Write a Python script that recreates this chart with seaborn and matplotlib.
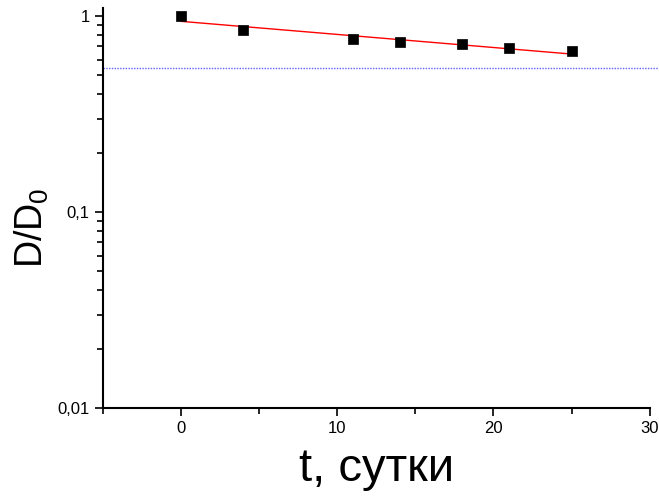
import matplotlib
matplotlib.use("Agg")
import matplotlib.pyplot as plt
import matplotlib.ticker as mticker
import seaborn as sns
import pandas as pd

t_days = [0, 4, 11, 14, 18, 21, 25]
d_ratio = [1.00, 0.85, 0.76, 0.74, 0.72, 0.69, 0.66]
fit_t = [0, 25]
fit_y = [0.94, 0.64]
threshold = 0.543
x_ticks = [0, 10, 20, 30]
y_ticks = [0.01, 0.1, 1]
y_tick_labels = ["0,01", "0,1", "1"]

sns.set_style("ticks")
plt.rcParams["font.family"] = ["Liberation Sans", "DejaVu Sans"]
plt.rcParams["text.color"] = "black"
plt.rcParams["axes.labelcolor"] = "black"
plt.rcParams["mathtext.fontset"] = "custom"
plt.rcParams["mathtext.rm"] = "Liberation Sans"
plt.rcParams["mathtext.it"] = "Liberation Sans"

fig = plt.figure(figsize=(6.59, 4.97), dpi=100)
ax = fig.add_axes([0.156, 0.179, 0.830, 0.805])

df = pd.DataFrame({"t": t_days, "d": d_ratio})
fit = pd.DataFrame({"t": fit_t, "d": fit_y})

sns.lineplot(data=fit, x="t", y="d", color="red", linewidth=1.0, ax=ax)
sns.scatterplot(data=df, x="t", y="d", marker="s", s=50, color="black",
                edgecolor="black", linewidth=0.5, ax=ax, zorder=3)
ax.axhline(threshold, xmin=0, xmax=1.015, color="#6060ff", linestyle=(0, (1, 1)),
           linewidth=1.0, clip_on=False)

ax.set_yscale("log")
ax.set_xlim(-5, 30)
ax.set_ylim(0.01, 1.1)
ax.set_xticks(x_ticks)
ax.set_xticklabels([str(v) for v in x_ticks])
ax.xaxis.set_minor_locator(mticker.FixedLocator([-5, 5, 15, 25]))
ax.set_yticks(y_ticks)
ax.set_yticklabels(y_tick_labels)
ax.yaxis.set_minor_locator(mticker.LogLocator(base=10, subs=range(2, 10)))
ax.yaxis.set_minor_formatter(mticker.NullFormatter())

ax.tick_params(axis="both", which="major", direction="out", length=6, width=1.2,
               labelsize=12, color="black", labelcolor="black")
ax.tick_params(axis="both", which="minor", direction="out", length=4, width=1.2,
               color="black")

for s in ["left", "bottom"]:
    ax.spines[s].set_linewidth(1.5)
    ax.spines[s].set_color("black")
sns.despine(ax=ax)

ax.set_xlabel("t, сутки", fontsize=34, labelpad=8, color="black")
ax.set_ylabel("")
fig.text(32 / 659, 1 - 228 / 497, "D/D$_0$", rotation=90, fontsize=27,
         ha="center", va="center", color="black")
ax.grid(False)

fig.savefig("out.png", dpi=100)
